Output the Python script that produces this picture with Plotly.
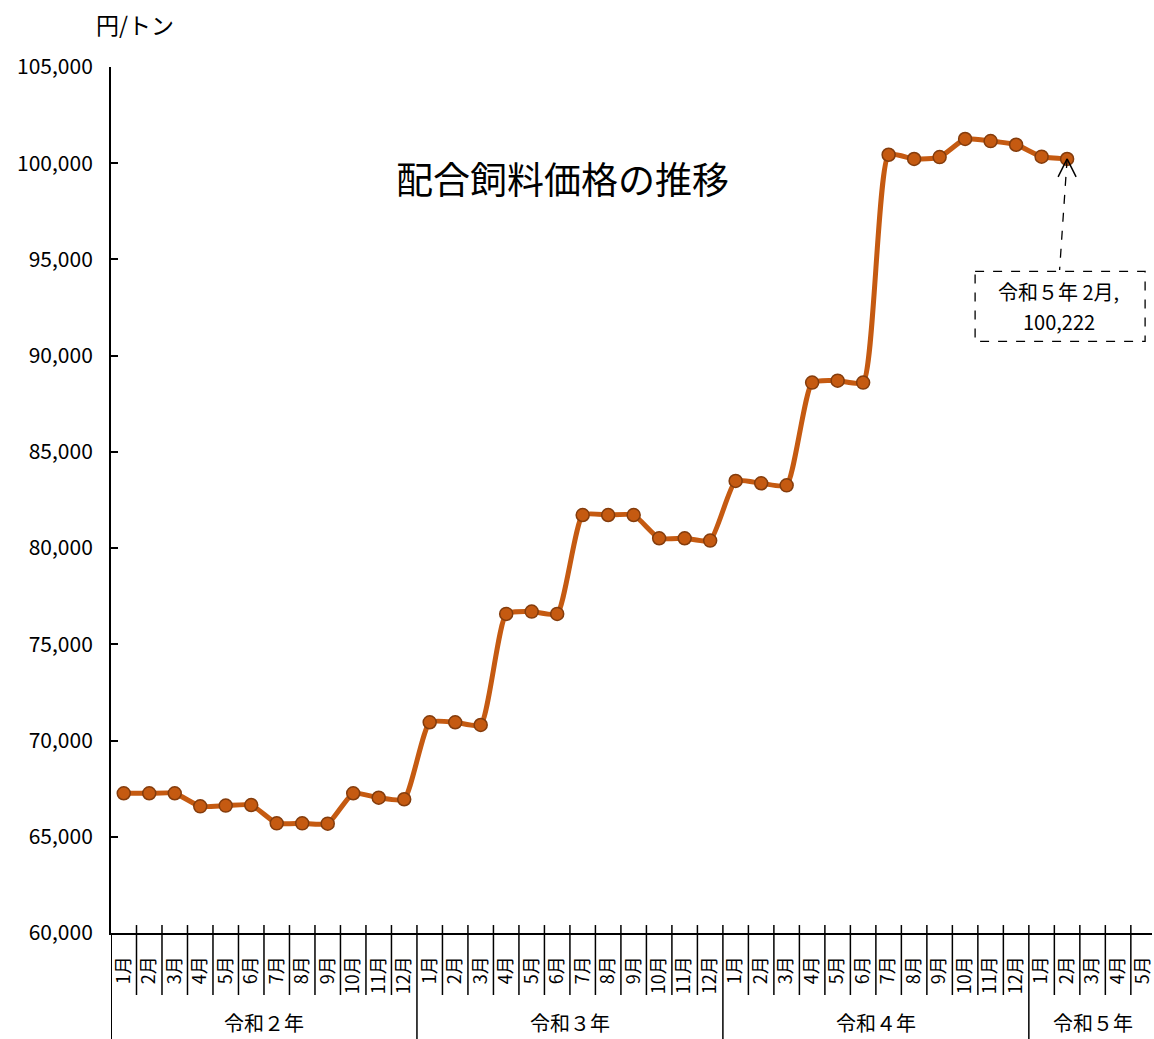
import plotly.graph_objects as go

# 月ラベル(令和2年1月〜令和5年5月)
months = [f"{m}月" for m in range(1, 13)] * 3 + [f"{m}月" for m in range(1, 6)]
# 年の区分と各年の月数
years = ["令和２年", "令和３年", "令和４年", "令和５年"]
year_counts = [12, 12, 12, 5]
# 配合飼料価格(円/トン)
prices = [
    67260, 67260, 67260, 66580, 66620, 66650, 65700, 65700, 65680, 67260, 67030, 66950,
    70950, 70950, 70810, 76580, 76700, 76580, 81720, 81720, 81720, 80510, 80510, 80390,
    83490, 83370, 83260, 88600, 88700, 88600, 100440, 100220, 100320, 101260, 101150, 100960,
    100340, 100222,
]
y_ticks = list(range(60000, 105001, 5000))
y_tick_text = [f"{v:,}" for v in y_ticks]

FONT = "Noto Sans CJK JP"
LINE_COLOR = "#C55A11"
EDGE_COLOR = "#843C0C"

x_idx = list(range(len(prices)))

fig = go.Figure()
fig.add_trace(go.Scatter(
    x=x_idx, y=prices, mode="lines+markers",
    line=dict(color=LINE_COLOR, width=5, shape="spline", smoothing=0.5),
    marker=dict(size=13, color=LINE_COLOR, line=dict(color=EDGE_COLOR, width=1.5)),
    showlegend=False, hoverinfo="skip", cliponaxis=False,
))

shapes = []
# 月の区切り線
year_starts = []
acc = 0
for c in year_counts:
    year_starts.append(acc)
    acc += c
for b in range(1, len(months)):
    is_year = b in year_starts
    shapes.append(dict(
        type="line", xref="x", yref="paper",
        x0=b - 0.5, x1=b - 0.5, y0=0.0092, y1=-0.1224 if is_year else -0.0716,
        line=dict(color="black", width=1.5),
    ))
# 縦軸を下端まで延長
shapes.append(dict(type="line", xref="x", yref="paper", x0=-0.5, x1=-0.5,
                   y0=0, y1=-0.1224, line=dict(color="black", width=2)))

# 最新値の吹き出し(破線と矢印)
last_i = len(prices) - 1
last_v = prices[-1]
pix = dict(xref="x", yref="y", xsizemode="pixel", ysizemode="pixel",
           xanchor=last_i, yanchor=last_v)
shapes.append(dict(type="line", x0=0, y0=0, x1=-7.5, y1=-111,
                   line=dict(color="black", width=1.3, dash="dash"), **pix))
shapes.append(dict(type="line", x0=0, y0=0, x1=-9, y1=-18,
                   line=dict(color="black", width=1.5), **pix))
shapes.append(dict(type="line", x0=0, y0=0, x1=9, y1=-18,
                   line=dict(color="black", width=1.5), **pix))
shapes.append(dict(type="rect", x0=-92, y0=-112.5, x1=78, y1=-182.5,
                   line=dict(color="black", width=1.3, dash="dash"),
                   fillcolor="white", **pix))

annotations = [
    dict(text="配合飼料価格の推移", xref="paper", yref="paper", x=0.4334, y=0.8718,
         xanchor="center", yanchor="middle", showarrow=False,
         font=dict(family=FONT, size=37, color="black")),
    dict(text="円/トン", xref="paper", yref="paper", x=0.023, y=1.0497,
         xanchor="center", yanchor="middle", showarrow=False,
         font=dict(family=FONT, size=23, color="black")),
    dict(text="令和５年 2月,", xref="x", yref="y", x=last_i, y=last_v,
         xanchor="center", yanchor="middle", xshift=-8.5, yshift=-133, showarrow=False,
         font=dict(family=FONT, size=20, color="black")),
    dict(text=f"{last_v:,}", xref="x", yref="y", x=last_i, y=last_v,
         xanchor="center", yanchor="middle", xshift=-8.5, yshift=-163, showarrow=False,
         font=dict(family=FONT, size=20, color="black")),
]
# 年ラベル(各年の区間の中央)
for name, start, cnt in zip(years, year_starts, year_counts):
    center = start + (cnt - 1) / 2
    annotations.append(dict(text=name, xref="x", yref="paper", x=center, y=-0.1035,
                            xanchor="center", yanchor="middle", showarrow=False,
                            font=dict(family=FONT, size=20, color="black")))

fig.update_layout(
    width=1154, height=1039,
    margin=dict(l=111, r=0, t=67, b=106),
    paper_bgcolor="white", plot_bgcolor="white",
    shapes=shapes, annotations=annotations,
    xaxis=dict(
        range=[-0.5, 40.33], tickvals=list(range(len(months))), ticktext=months,
        tickangle=-90, ticks="", showgrid=False, zeroline=False,
        showline=True, linecolor="black", linewidth=2,
        tickfont=dict(family=FONT, size=18, color="black"),
        ticklabelstandoff=14, ticklabeloverflow="allow",
    ),
    yaxis=dict(
        range=[60000, 105000], tickvals=y_ticks, ticktext=y_tick_text,
        ticks="inside", ticklen=7, tickwidth=1.5, tickcolor="black",
        showgrid=False, zeroline=False, showline=True, linecolor="black", linewidth=2,
        tickfont=dict(family=FONT, size=21, color="black"),
        ticklabelstandoff=12,
    ),
)

fig.write_html("out.html")
